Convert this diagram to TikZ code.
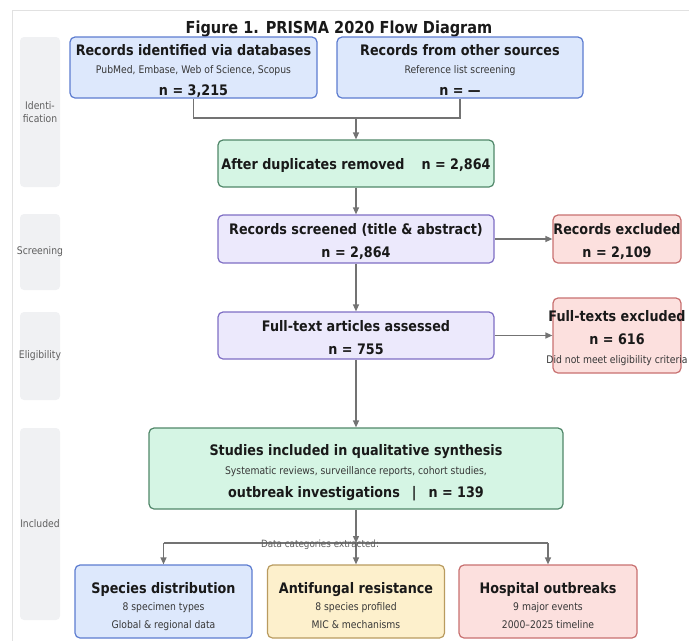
\documentclass[tikz,border=0pt]{standalone}
\usepackage{fontspec}
\setmainfont{DejaVu Sans}[FakeStretch=0.88]
\usetikzlibrary{arrows.meta}
\definecolor{bluef}{RGB}{221,232,252}
\definecolor{blueb}{RGB}{92,124,208}
\definecolor{greenf}{RGB}{213,245,228}
\definecolor{greenb}{RGB}{80,135,105}
\definecolor{purplef}{RGB}{236,233,252}
\definecolor{purpleb}{RGB}{126,110,196}
\definecolor{redf}{RGB}{252,224,222}
\definecolor{redb}{RGB}{200,112,112}
\definecolor{yellowf}{RGB}{253,240,204}
\definecolor{yellowb}{RGB}{185,155,95}
\definecolor{phasef}{RGB}{240,241,243}
\definecolor{framec}{RGB}{225,225,225}
\definecolor{linec}{RGB}{115,115,115}
\definecolor{txt}{RGB}{25,25,25}
\definecolor{subtxt}{RGB}{55,55,55}
\definecolor{phtxt}{RGB}{95,95,95}
\tikzset{
  box/.style={draw, rounded corners=5pt, line width=1.2pt, inner sep=0pt},
  bluebox/.style={box, fill=bluef, draw=blueb},
  greenbox/.style={box, fill=greenf, draw=greenb},
  purplebox/.style={box, fill=purplef, draw=purpleb},
  redbox/.style={box, fill=redf, draw=redb},
  yellowbox/.style={box, fill=yellowf, draw=yellowb},
  ttl/.style={font=\fontsize{14.5}{16}\selectfont\bfseries, text=txt, anchor=base, inner sep=0pt},
  subt/.style={font=\fontsize{10.5}{12}\selectfont, text=subtxt, anchor=base, inner sep=0pt},
  phase/.style={fill=phasef, rounded corners=4pt, inner sep=0pt},
  phlabel/.style={font=\fontsize{10.5}{13}\selectfont, text=phtxt, align=center, inner sep=0pt},
  conn/.style={draw=linec, line width=1.3pt},
  arr/.style={conn, -{Triangle[length=7pt,width=6pt]}},
}
\begin{document}
\begin{tikzpicture}[x=1pt,y=-1pt]
\useasboundingbox (0,0) rectangle (689,641);
% frame
\draw[framec, line width=1pt] (689,10) -- (12,10) -- (12,641);
% title
\node[font=\fontsize{16.5}{18}\selectfont\bfseries, text=txt, anchor=base, inner sep=0pt] (title) at (339,33) {Figure 1. PRISMA 2020 Flow Diagram};
% phase boxes
\node[phase, minimum width=40pt, minimum height=150pt] (ph1) at (40,112) {};
\node[phase, minimum width=40pt, minimum height=76pt] (ph2) at (40,252) {};
\node[phase, minimum width=40pt, minimum height=88pt] (ph3) at (40,356) {};
\node[phase, minimum width=40pt, minimum height=192pt] (ph4) at (40,524) {};
\node[phlabel] (ph1l) at (ph1) {Identi-\\fication};
\node[phlabel] (ph2l) at (ph2) {Screening};
\node[phlabel] (ph3l) at (ph3) {Eligibility};
\node[phlabel] (ph4l) at (ph4) {Included};
% identification
\node[bluebox, minimum width=247pt, minimum height=61pt] (db) at (193.5,67.5) {};
\node[ttl] (dbt) at (193.5,55) {Records identified via databases};
\node[subt] (dbs) at (193.5,73) {PubMed, Embase, Web of Science, Scopus};
\node[ttl] (dbn) at (193.5,95) {n = 3,215};
\node[bluebox, minimum width=246pt, minimum height=61pt] (oth) at (460,67.5) {};
\node[ttl] (otht) at (460,55) {Records from other sources};
\node[subt] (oths) at (460,73) {Reference list screening};
\node[ttl] (othn) at (460,95) {n = —};
\node[greenbox, minimum width=276pt, minimum height=47pt] (dup) at (356,163.5) {};
\node[ttl] (dupt) at (356,169) {After duplicates removed\hspace{17pt}n = 2,864};
% screening
\node[purplebox, minimum width=276pt, minimum height=48pt] (scr) at (356,239) {};
\node[ttl] (scrt) at (356,234) {Records screened (title \& abstract)};
\node[ttl] (scrn) at (356,257) {n = 2,864};
\node[redbox, minimum width=128pt, minimum height=48pt] (rex) at (617,239) {};
\node[ttl] (rext) at (617,234) {Records excluded};
\node[ttl] (rexn) at (617,257) {n = 2,109};
% eligibility
\node[purplebox, minimum width=276pt, minimum height=47pt] (ft) at (356,335.5) {};
\node[ttl] (ftt) at (356,331) {Full-text articles assessed};
\node[ttl] (ftn) at (356,354) {n = 755};
\node[redbox, minimum width=128pt, minimum height=75pt] (fex) at (617,335.5) {};
\node[ttl] (fext) at (617,321) {Full-texts excluded};
\node[ttl] (fexn) at (617,344) {n = 616};
\node[subt] (fexs) at (617,363) {Did not meet eligibility criteria};
% included
\node[greenbox, minimum width=414pt, minimum height=81pt] (inc) at (356,468.5) {};
\node[ttl] (inct) at (356,455) {Studies included in qualitative synthesis};
\node[subt] (incs) at (356,474) {Systematic reviews, surveillance reports, cohort studies,};
\node[ttl] (incn) at (356,497) {outbreak investigations\hspace*{12pt}|\hspace*{12pt}n = 139};
% categories
\node[bluebox, minimum width=177pt, minimum height=73pt] (sp) at (163.5,601.5) {};
\node[ttl] (spt) at (163.5,593) {Species distribution};
\node[subt] (sps1) at (163.5,610) {8 specimen types};
\node[subt] (sps2) at (163.5,628) {Global \& regional data};
\node[yellowbox, minimum width=177pt, minimum height=73pt] (af) at (356,601.5) {};
\node[ttl] (aft) at (356,593) {Antifungal resistance};
\node[subt] (afs1) at (356,610) {8 species profiled};
\node[subt] (afs2) at (356,628) {MIC \& mechanisms};
\node[redbox, minimum width=178pt, minimum height=73pt] (ho) at (548,601.5) {};
\node[ttl] (hot) at (548,593) {Hospital outbreaks};
\node[subt] (hos1) at (548,610) {9 major events};
\node[subt] (hos2) at (548,628) {2000–2025 timeline};
% connectors
\coordinate (j1) at (356,118);
\draw[conn] (db.south) |- (j1) -| (oth.south);
\draw[arr] (j1) -- (dup.north);
\draw[arr] (dup.south) -- (scr.north);
\draw[arr] (scr.east) -- (rex.west);
\draw[arr] (scr.south) -- (ft.north);
\draw[arr] (ft.east) -- (fex.west);
\draw[arr] (ft.south) -- (inc.north);
\coordinate (j2) at (356,543);
\coordinate (j3) at (163.5,543);
\coordinate (j4) at (548,543);
\draw[arr] (inc.south) -- (j2);
\draw[conn] (j3) -- (j4);
\draw[arr] (j3) -- (sp.north);
\draw[arr] (j2) -- (af.north);
\draw[arr] (j4) -- (ho.north);
\node[font=\fontsize{10}{12}\selectfont, text=phtxt, inner sep=0pt] (dcl) at (320,545) {Data categories extracted:};
\end{tikzpicture}
\end{document}
